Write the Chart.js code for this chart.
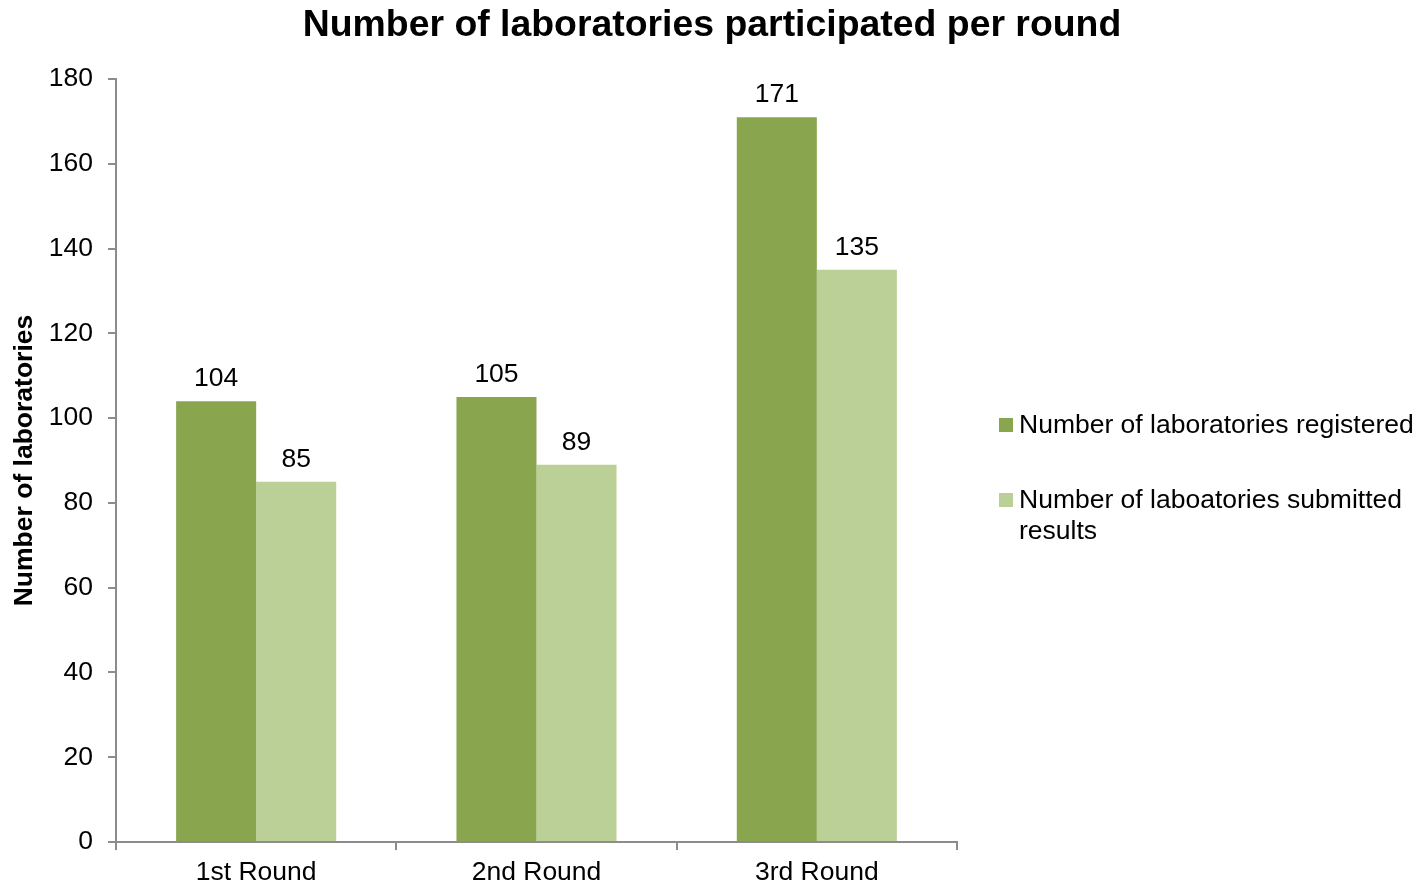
<!DOCTYPE html>
<html>
<head>
<meta charset="utf-8">
<script src="https://cdn.jsdelivr.net/npm/chart.js@4"></script>
<style>
  html, body { margin: 0; padding: 0; background: #fff; }
  #wrap { width: 1426px; height: 887px; position: relative; }
</style>
</head>
<body>
<div id="wrap"><canvas id="roundsChart"></canvas></div>
<script>
const rounds = ['1st Round', '2nd Round', '3rd Round'];
const registered = [104, 105, 171];
const submitted = [85, 89, 135];
const yTicks = [0, 20, 40, 60, 80, 100, 120, 140, 160, 180];
const chartTitle = 'Number of laboratories participated per round';
const seriesNames = [
    ['Number of laboratories registered'],
    ['Number of laboatories submitted', 'results']
];

const FONT = "'Liberation Sans', Arial, sans-serif";
const axisGrey = '#8c8c8c';

// title centred on the whole picture, not just the plot
const pageTitle = {
    id: 'pageTitle',
    afterDraw(chart) {
        const ctx = chart.ctx;
        ctx.save();
        ctx.font = 'bold 37.4px ' + FONT;
        ctx.fillStyle = '#000';
        ctx.textAlign = 'center';
        ctx.textBaseline = 'middle';
        ctx.fillText(chartTitle, chart.width / 2 - 1, 26);
        ctx.restore();
    }
};

// values above each bar
const barLabels = {
    id: 'barLabels',
    afterDatasetsDraw(chart) {
        const ctx = chart.ctx;
        ctx.save();
        ctx.font = '26.5px ' + FONT;
        ctx.fillStyle = '#000';
        ctx.textAlign = 'center';
        ctx.textBaseline = 'bottom';
        chart.data.datasets.forEach((ds, i) => {
            chart.getDatasetMeta(i).data.forEach((bar, j) => {
                ctx.fillText(ds.data[j], bar.x, bar.y - 9);
            });
        });
        ctx.restore();
    }
};

// legend on the right, with wrapped second label
const sideLegend = {
    id: 'sideLegend',
    afterDraw(chart) {
        const ctx = chart.ctx;
        ctx.save();
        ctx.font = '26.5px ' + FONT;
        ctx.textBaseline = 'middle';
        let y = 425;
        chart.data.datasets.forEach((ds, i) => {
            ctx.fillStyle = ds.backgroundColor;
            ctx.fillRect(999, y - 7, 14, 14);
            ctx.fillStyle = '#000';
            seriesNames[i].forEach((line, k) => {
                ctx.fillText(line, 1019, y + 1 + k * 31);
            });
            y += 75;
        });
        ctx.restore();
    }
};

new Chart(document.getElementById('roundsChart'), {
    type: 'bar',
    data: {
        labels: rounds,
        datasets: [{
            label: seriesNames[0].join(' '),
            data: registered,
            backgroundColor: '#89a54e',
            categoryPercentage: 0.571,
            barPercentage: 1.0
        }, {
            label: seriesNames[1].join(' '),
            data: submitted,
            backgroundColor: '#bbd097',
            categoryPercentage: 0.571,
            barPercentage: 1.0
        }]
    },
    options: {
        responsive: true,
        maintainAspectRatio: false,
        animation: false,
        layout: {
            padding: { left: 0, right: 469, top: 79, bottom: 0 }
        },
        plugins: {
            legend: { display: false },
            tooltip: { enabled: false },
            title: { display: false }
        },
        scales: {
            x: {
                grid: {
                    display: true,
                    drawOnChartArea: false,
                    offset: true,
                    tickLength: 8,
                    color: axisGrey,
                    lineWidth: 2
                },
                border: { color: axisGrey, width: 2 },
                ticks: {
                    color: '#000',
                    font: { family: FONT, size: 26.5 },
                    padding: 7
                },
                afterFit(scale) { scale.height = 45; }
            },
            y: {
                min: 0,
                max: 180,
                afterBuildTicks(scale) {
                    scale.ticks = yTicks.map(v => ({ value: v }));
                },
                grid: {
                    display: true,
                    drawOnChartArea: false,
                    tickLength: 8,
                    color: axisGrey,
                    lineWidth: 2
                },
                border: { color: axisGrey, width: 2 },
                ticks: {
                    color: '#000',
                    font: { family: FONT, size: 26.5 },
                    padding: 15
                },
                title: {
                    display: true,
                    text: 'Number of laboratories',
                    color: '#000',
                    font: { family: FONT, size: 26.5, weight: 'bold' },
                    padding: { top: 9, bottom: 4 }
                },
                afterFit(scale) { scale.width = 116; }
            }
        }
    },
    plugins: [barLabels, sideLegend, pageTitle]
});
</script>
</body>
</html>
